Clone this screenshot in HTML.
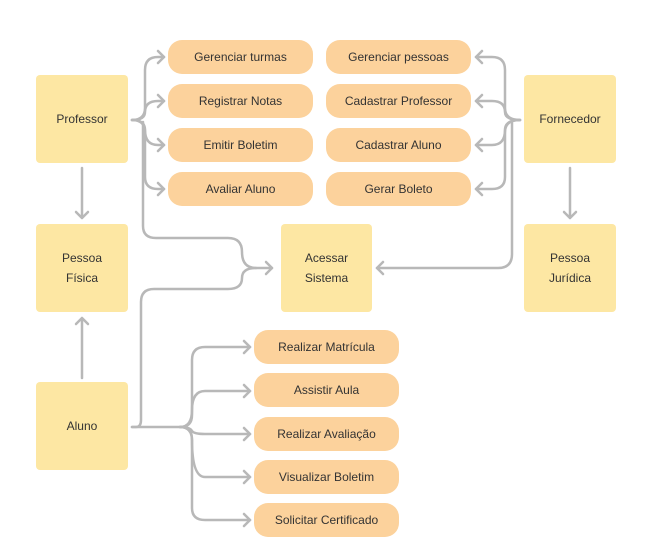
<!DOCTYPE html>
<html><head><meta charset="utf-8"><style>
body{margin:0;width:645px;height:559px;background:#fff;position:relative;font-family:"Liberation Sans",sans-serif;overflow:hidden}
.b{position:absolute;background:#fde7a3;border-radius:4px;display:flex;align-items:center;justify-content:center;text-align:center;font-size:12px;color:#333;line-height:20px}
.p{position:absolute;background:#fcd29c;border-radius:14px;display:flex;align-items:center;justify-content:center;font-size:12px;color:#333;width:145px;height:34px}
svg{position:absolute;left:0;top:0}
</style></head><body>
<svg width="645" height="559" fill="none" stroke="#b8b8b8" stroke-width="2.5" stroke-linecap="round" stroke-linejoin="round">
<!-- Professor -->
<path d="M132 120 Q145 120 145 108 L145 70 Q145 57 158 57 L164 57"/>
<path d="M132 120 Q145 120 145 112 Q145 101 158 101 L164 101"/>
<path d="M132 120 Q145 120 145 130 Q145 145 158 145 L164 145"/>
<path d="M132 120 Q145 120 145 132 L145 177 Q145 189 158 189 L164 189"/>
<path d="M143 122 L143 226 Q143 238 156 238 L228 238 Q242 238 242 252 Q242 268 256 268 L272 268"/>
<path d="M158 51 L164 57 L158 63 M158 95 L164 101 L158 107 M158 139 L164 145 L158 151 M158 183 L164 189 L158 195"/>
<path d="M266 262 L272 268 L266 274"/>
<!-- Fornecedor -->
<path d="M520 120 Q505 120 505 108 L505 70 Q505 57 492 57 L476 57"/>
<path d="M520 120 Q505 120 505 112 Q505 101 492 101 L476 101"/>
<path d="M520 120 Q505 120 505 130 Q505 145 492 145 L476 145"/>
<path d="M520 120 Q505 120 505 132 L505 177 Q505 189 492 189 L476 189"/>
<path d="M512 122 L512 254 Q512 268 498 268 L377 268"/>
<path d="M482 51 L476 57 L482 63 M482 95 L476 101 L482 107 M482 139 L476 145 L482 151 M482 183 L476 189 L482 195 M383 262 L377 268 L383 274"/>
<!-- vertical arrows -->
<path d="M82 168 L82 218 M76 212 L82 218 L88 212"/>
<path d="M570 168 L570 218 M564 212 L570 218 L576 212"/>
<path d="M82 378 L82 318 M76 324 L82 318 L88 324"/>
<!-- Aluno -->
<path d="M132 427 L136 427 Q141 427 141 420 L141 302 Q141 289 154 289 L228 289 Q242 289 242 278 Q242 268 256 268"/>
<path d="M132 427 L180 427 Q192 427 192 415 L192 360 Q192 347 205 347 L250 347"/>
<path d="M180 427 Q192 427 192 410 Q192 391 205 391 L250 391"/>
<path d="M180 427 Q190 427 192 431 Q194 434 205 434 L250 434"/>
<path d="M180 427 Q192 427 192 440 Q192 477 205 477 L250 477"/>
<path d="M180 427 Q192 427 192 440 L192 508 Q192 520 205 520 L250 520"/>
<path d="M244 341 L250 347 L244 353 M244 385 L250 391 L244 397 M244 428 L250 434 L244 440 M244 471 L250 477 L244 483 M244 514 L250 520 L244 526"/>
</svg>
<div class="b" style="left:36px;top:75px;width:92px;height:88px">Professor</div>
<div class="b" style="left:36px;top:224px;width:92px;height:88px">Pessoa<br>Física</div>
<div class="b" style="left:36px;top:382px;width:92px;height:88px">Aluno</div>
<div class="b" style="left:281px;top:224px;width:91px;height:88px">Acessar<br>Sistema</div>
<div class="b" style="left:524px;top:75px;width:92px;height:88px">Fornecedor</div>
<div class="b" style="left:524px;top:224px;width:92px;height:88px">Pessoa<br>Jurídica</div>
<div class="p" style="left:168px;top:40px">Gerenciar turmas</div>
<div class="p" style="left:168px;top:84px">Registrar Notas</div>
<div class="p" style="left:168px;top:128px">Emitir Boletim</div>
<div class="p" style="left:168px;top:172px">Avaliar Aluno</div>
<div class="p" style="left:326px;top:40px">Gerenciar pessoas</div>
<div class="p" style="left:326px;top:84px">Cadastrar Professor</div>
<div class="p" style="left:326px;top:128px">Cadastrar Aluno</div>
<div class="p" style="left:326px;top:172px">Gerar Boleto</div>
<div class="p" style="left:254px;top:330px">Realizar Matrícula</div>
<div class="p" style="left:254px;top:373px">Assistir Aula</div>
<div class="p" style="left:254px;top:417px">Realizar Avaliação</div>
<div class="p" style="left:254px;top:460px">Visualizar Boletim</div>
<div class="p" style="left:254px;top:503px">Solicitar Certificado</div>
</body></html>
